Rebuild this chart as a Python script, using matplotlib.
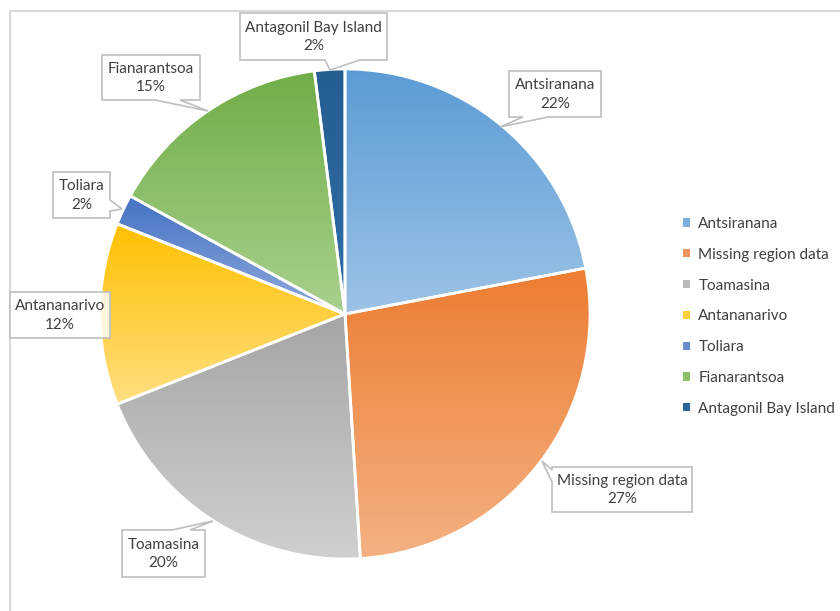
import numpy as np
import matplotlib
matplotlib.use("Agg")
import matplotlib.pyplot as plt
from matplotlib.patches import Polygon, Patch
from matplotlib.colors import to_rgb

# ---- data ----
categories = ["Antsiranana", "Missing region data", "Toamasina", "Antananarivo",
              "Toliara", "Fianarantsoa", "Antagonil Bay Island"]
values = [22, 27, 20, 12, 2, 15, 2]
top_colors = ["#5B9BD5", "#ED7D31", "#A5A5A5", "#FFC000", "#4472C4", "#70AD47", "#255E91"]
bottom_colors = ["#9DC3E6", "#F4B183", "#D0D0D0", "#FFDF80", "#8FAADC", "#A9D18E", "#2F6CA8"]
legend_colors = ["#7AAFDE", "#F0935A", "#BBBBBB", "#FFCF40", "#6A8ED0", "#8DC06A", "#2A669C"]

W, H = 840, 611
FONT = "Lato"
TXT = "#404040"

fig = plt.figure(figsize=(W / 100, H / 100), dpi=100)
ax = fig.add_axes([0, 0, 1, 1])

def Y(y):  # top-left pixel y -> data y
    return H - y

cx, cy, R = 345, 314, 245
wedges, _ = ax.pie(values, startangle=90, counterclock=False, center=(cx, Y(cy)),
                   radius=R, colors=legend_colors,
                   wedgeprops=dict(edgecolor="white", linewidth=2))

# gradient fill per wedge
for w, c0, c1 in zip(wedges, top_colors, bottom_colors):
    path = w.get_path().transformed(w.get_patch_transform())
    verts = path.vertices
    x0, x1 = verts[:, 0].min(), verts[:, 0].max()
    y0, y1 = verts[:, 1].min(), verts[:, 1].max()
    t = np.linspace(0, 1, 256)[:, None]
    a, b = np.array(to_rgb(c0)), np.array(to_rgb(c1))
    img = (a[None, :] * (1 - t) + b[None, :] * t)[:, None, :]
    im = ax.imshow(img, extent=(x0, x1, y0, y1), origin="upper", aspect="auto", zorder=1.5)
    im.set_clip_path(w)
    w.set_zorder(2)
    w.set_facecolor("none")

# chart frame (top and left visible)
ax.plot([9.5, W], [Y(10.5), Y(10.5)], color="#D9D9D9", lw=1.5, zorder=0.5, solid_capstyle="butt")
ax.plot([9.5, 9.5], [Y(10.5), 0], color="#D9D9D9", lw=1.5, zorder=0.5, solid_capstyle="butt")

# callout labels: box (x0,y0,x1,y1), pointer (side, base a, base b, tip)
labels = {
    "Antsiranana": ((509, 71, 601, 117), ("bottom", 523, 548, (500, 127))),
    "Missing region data": ((552, 467, 692, 512), ("left", 470, 482, (542, 461))),
    "Toamasina": ((122, 530, 205, 577), ("top", 172, 190, (213, 521))),
    "Antananarivo": ((10, 292, 110, 338), None),
    "Toliara": ((53, 172, 110, 218), ("right", 200, 211, (122, 209))),
    "Fianarantsoa": ((102, 55, 200, 100), ("bottom", 155, 180, (208, 111))),
    "Antagonil Bay Island": ((240, 13, 387, 60), ("bottom", 325, 360, (330, 70))),
}

total = sum(values)
for name, v in zip(categories, values):
    (x0, y0, x1, y1), ptr = labels[name]
    pts = [(x0, y0)]
    if ptr and ptr[0] == "top":
        pts += [(ptr[1], y0), ptr[3], (ptr[2], y0)]
    pts.append((x1, y0))
    if ptr and ptr[0] == "right":
        pts += [(x1, ptr[1]), ptr[3], (x1, ptr[2])]
    pts.append((x1, y1))
    if ptr and ptr[0] == "bottom":
        pts += [(ptr[2], y1), ptr[3], (ptr[1], y1)]
    pts.append((x0, y1))
    if ptr and ptr[0] == "left":
        pts += [(x0, ptr[2]), ptr[3], (x0, ptr[1])]
    poly = Polygon([(px, Y(py)) for px, py in pts], closed=True,
                   facecolor=(1, 1, 1, 0.82), edgecolor="#BFBFBF", lw=1.2, zorder=3)
    ax.add_patch(poly)
    ax.text((x0 + x1) / 2, Y((y0 + y1) / 2 + 0.5), f"{name}\n{round(100 * v / total)}%",
            ha="center", va="center", multialignment="center", fontsize=11,
            family=FONT, color=TXT, linespacing=1.4, zorder=4)

handles = [Patch(facecolor=c, edgecolor="none") for c in legend_colors]
leg = ax.legend(handles, categories, loc="upper left",
                bbox_to_anchor=(683 / W, 1 - 217 / H), bbox_transform=fig.transFigure,
                frameon=False, prop=dict(family=FONT, size=11), labelcolor=TXT,
                handlelength=0.45, handleheight=0.45, handletextpad=0.55,
                labelspacing=1.1, borderpad=0, borderaxespad=0)

ax.set_xlim(0, W)
ax.set_ylim(0, H)
ax.set_aspect("auto")
ax.set_axis_off()
fig.savefig("out.png", dpi=100)
